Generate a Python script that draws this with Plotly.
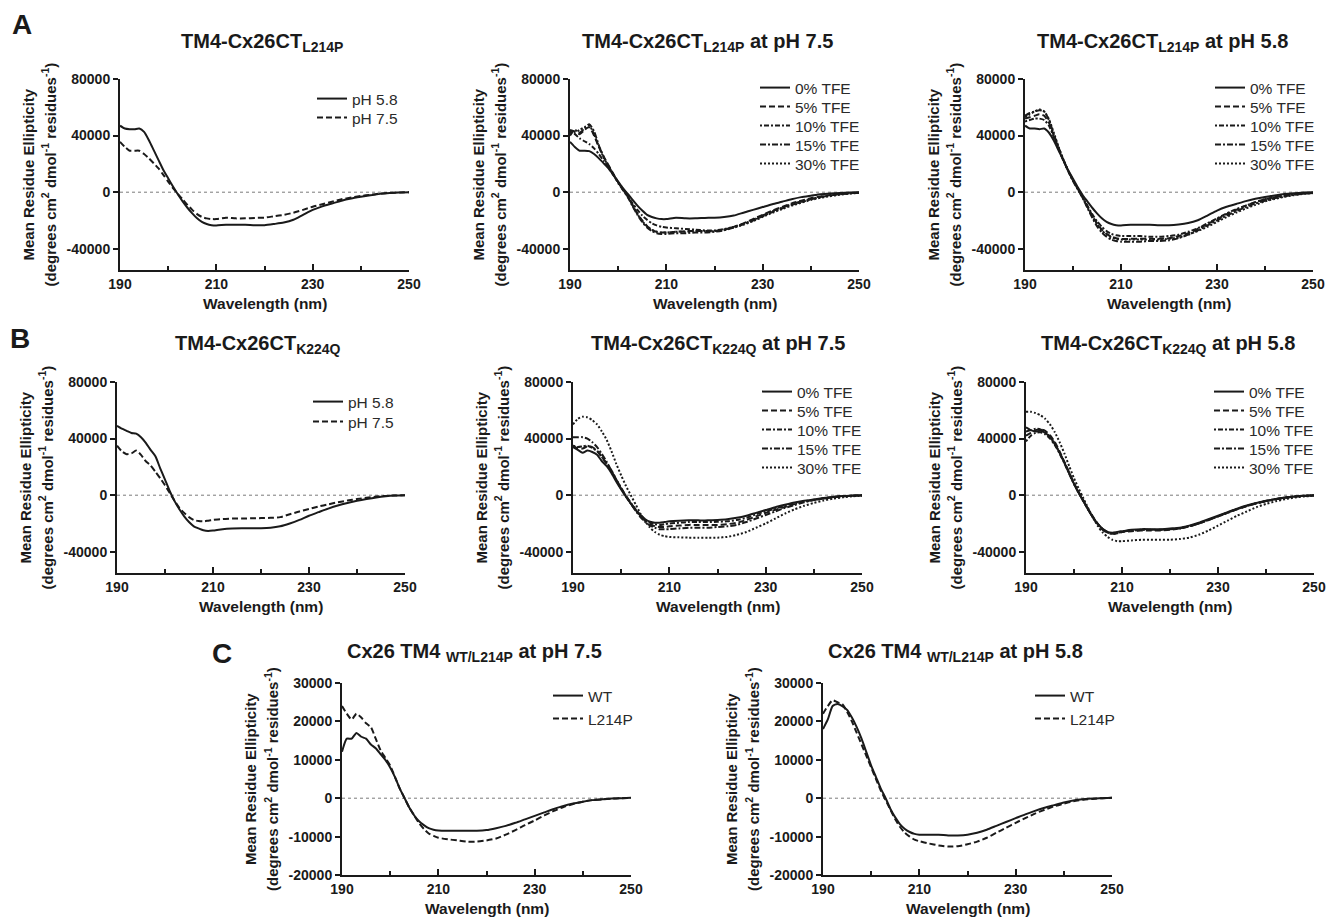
import plotly.graph_objects as go

W, H = 1341, 920
PAGE_OFFSET = 8  # the browser page places the figure 8 px from the top-left corner
INK = "#1a1a1a"
FONT = "Liberation Sans, Arial, sans-serif"

# wavelength grid (nm)
WL = [190, 191, 192, 193, 194, 195, 196, 197, 198, 199, 200,
      201, 202, 203, 204, 205, 206, 207, 208, 209, 210,
      212, 214, 216, 218, 220, 222, 224, 226, 228, 230,
      232, 234, 236, 238, 240, 242, 244, 246, 248, 250]

# ---------- Panel A: TM4-Cx26CT L214P ----------
A1_PH58 = [47000, 45000, 44500, 44500, 45000, 42600, 36700, 29700, 22700, 15700,
           9800, 4000, -1500, -6500, -11000, -15000, -18500, -21000, -22500, -23300, -23500,
           -23000, -23000, -23000, -23300, -23300, -22500, -21500, -19500, -16000, -12500,
           -10000, -8000, -6000, -4500, -3300, -2200, -1200, -600, -200, 0]
A1_PH75 = [35600, 32000, 29300, 29300, 29300, 27000, 23900, 20400, 16800, 12200,
           7500, 2800, -1200, -5000, -9000, -12500, -15500, -17500, -18500, -19000, -19000,
           -18000, -18500, -18500, -18200, -18000, -17000, -16000, -14500, -12500, -10300,
           -8500, -6800, -5000, -3800, -2700, -1800, -1000, -500, -200, 0]

A2_TFE0 = [35600, 32000, 29300, 29300, 29000, 27000, 23900, 20400, 16800, 12200,
           7500, 2800, -1200, -5500, -9500, -13000, -16000, -17500, -18500, -19000, -19000,
           -18000, -18500, -18500, -18200, -18000, -17500, -16500, -14500, -12500, -10500,
           -8500, -6800, -5000, -3500, -2500, -1500, -900, -500, -200, 0]
A2_TFE5 = [44000, 43000, 41000, 44000, 46000, 40000, 32000, 25000, 19000, 13000,
           7000, 2000, -3000, -9000, -15000, -20000, -24000, -26500, -28000, -28500, -28500,
           -28000, -27500, -27500, -27500, -27500, -26500, -24500, -22000, -19000, -16000,
           -13000, -10500, -8000, -6000, -4200, -3000, -2000, -1200, -600, -300]
A2_TFE10 = [42000, 41000, 38000, 36000, 34000, 31000, 27000, 22000, 17000, 12000,
            7000, 2000, -3000, -8000, -12500, -16500, -19500, -22000, -23500, -24500, -25000,
            -25500, -26000, -26500, -27000, -27000, -26000, -24500, -22500, -20000, -17000,
            -14000, -11500, -9000, -7000, -5000, -3500, -2300, -1400, -800, -400]
A2_TFE15 = [40000, 44000, 42000, 45000, 48000, 43000, 33000, 25000, 18500, 12500,
            6500, 1500, -3500, -10000, -16000, -21000, -25000, -27500, -29000, -29500, -29500,
            -29000, -29000, -28500, -28500, -28000, -27000, -25000, -22500, -19500, -16500,
            -13500, -11000, -8500, -6500, -4800, -3400, -2300, -1400, -800, -400]
A2_TFE30 = [43000, 42000, 44000, 46000, 47000, 41000, 32000, 24500, 18000, 12500,
            7000, 2000, -3000, -9500, -15500, -20500, -24000, -26500, -28000, -28500, -28500,
            -28000, -28000, -27500, -27500, -27500, -26500, -25000, -23000, -20500, -17500,
            -14500, -12000, -9500, -7500, -5500, -4000, -2800, -1800, -1000, -500]

A3_TFE0 = [47000, 45000, 45000, 44500, 45000, 42000, 36500, 29500, 22500, 15500,
           9500, 3500, -2000, -6500, -11000, -15000, -18500, -21000, -22500, -23300, -23500,
           -23000, -23000, -23000, -23300, -23300, -22800, -21800, -19800, -16500, -13000,
           -10300, -8300, -6300, -4700, -3400, -2300, -1300, -700, -300, 0]
A3_TFE5 = [52000, 53000, 54000, 55000, 54000, 49000, 40000, 31000, 22500, 15000,
           8500, 2500, -3500, -10000, -16500, -22000, -26500, -29500, -31500, -32500, -33000,
           -33000, -33000, -33000, -33000, -32500, -31000, -29000, -26000, -22500, -19000,
           -15500, -12500, -9500, -7000, -5000, -3500, -2300, -1400, -800, -400]
A3_TFE10 = [50000, 51000, 52000, 52000, 51000, 47000, 39000, 30500, 22500, 15000,
            8500, 2500, -3500, -9500, -15500, -20500, -24500, -27500, -29500, -30500, -31000,
            -31000, -31000, -31500, -31500, -31000, -30000, -28000, -25500, -22000, -18500,
            -15000, -12000, -9500, -7000, -5000, -3500, -2300, -1400, -800, -400]
A3_TFE15 = [54000, 56000, 57000, 58000, 57000, 51000, 41000, 31500, 23000, 15000,
            8000, 2000, -4000, -11000, -18000, -24000, -28500, -31500, -33500, -34500, -35000,
            -35000, -35000, -34500, -34500, -34000, -32500, -30000, -27000, -23500, -20000,
            -16500, -13500, -10500, -8000, -6000, -4300, -3000, -1900, -1100, -600]
A3_TFE30 = [53000, 55000, 57000, 58500, 57000, 51500, 42000, 32000, 23000, 15000,
            8000, 2000, -4000, -10500, -17000, -22500, -27000, -30000, -32000, -33000, -33500,
            -33500, -33500, -33500, -33500, -33000, -32000, -30000, -27500, -24500, -21000,
            -17500, -14500, -11500, -9000, -6500, -4800, -3300, -2100, -1200, -700]

# ---------- Panel B: TM4-Cx26CT K224Q ----------
B1_PH58 = [49000, 47000, 45500, 44000, 43500, 41000, 37000, 32000, 27500, 19000,
           11000, 2800, -4200, -10000, -15000, -19000, -22000, -23500, -24800, -25300, -25000,
           -24000, -23500, -23300, -23300, -23300, -23000, -22000, -20000, -17500, -14500,
           -12000, -9500, -7300, -5500, -4000, -2700, -1600, -800, -300, 0]
B1_PH75 = [35000, 31000, 29000, 29500, 31500, 28500, 24000, 21000, 16500, 12000,
           7000, 1500, -4000, -9000, -12500, -15500, -17500, -18300, -18500, -18000, -17500,
           -16800, -16500, -16500, -16300, -16200, -16000, -15500, -13500, -11500, -9800,
           -8000, -6500, -5000, -3800, -2700, -1800, -1000, -500, -200, 0]

B2_TFE0 = [34000, 32000, 30000, 31500, 30500, 28500, 24000, 20500, 15500, 9500,
           4000, -1000, -6000, -10500, -14000, -17000, -18800, -19500, -19500, -19000, -18500,
           -18000, -17800, -17800, -17800, -17500, -17000, -16000, -14500, -12500, -10500,
           -8500, -6800, -5200, -4000, -3000, -2000, -1200, -600, -300, 0]
B2_TFE5 = [35000, 33000, 33000, 34500, 34000, 31500, 27000, 22000, 17000, 11000,
           5000, -500, -5500, -10500, -14500, -18000, -20500, -22000, -22500, -22500, -22000,
           -21500, -21000, -21000, -21000, -21000, -20500, -19500, -17500, -15000, -12500,
           -10300, -8300, -6300, -4700, -3400, -2300, -1400, -800, -400, -200]
B2_TFE10 = [35000, 34000, 34500, 35000, 33500, 31000, 27000, 22500, 17500, 11000,
            5000, -500, -5500, -10000, -14000, -17500, -19500, -20500, -21000, -20500, -20000,
            -19500, -19000, -19000, -19000, -18800, -18500, -17500, -16000, -13500, -11500,
            -9500, -7500, -5800, -4400, -3200, -2200, -1300, -700, -400, -200]
B2_TFE15 = [41000, 41000, 41000, 40000, 37500, 34000, 29000, 23500, 17000, 10500,
            4500, -1000, -6000, -11000, -15500, -19000, -21500, -23000, -24000, -24000, -24000,
            -23500, -23000, -23000, -23000, -22500, -22000, -21000, -19000, -16500, -14000,
            -11500, -9000, -7000, -5000, -3500, -2300, -1400, -800, -400, -200]
B2_TFE30 = [50000, 54000, 55500, 55000, 53000, 50000, 45000, 39000, 31000, 22000,
            14000, 6500, 0, -6500, -13000, -18500, -23000, -26000, -28000, -29000, -29500,
            -29800, -30000, -30000, -30000, -30000, -29500, -28000, -26000, -23000, -20000,
            -16500, -13000, -10000, -7500, -5500, -3800, -2500, -1500, -800, -400]

B3_TFE0 = [48000, 46000, 45000, 45500, 44000, 41000, 36000, 30000, 23000, 15500,
           8000, 1500, -4500, -10500, -16000, -20500, -24000, -26000, -26500, -26000, -25500,
           -24500, -24000, -24000, -24000, -23500, -23000, -21500, -19500, -17000, -14500,
           -12000, -9500, -7300, -5500, -4000, -2700, -1700, -900, -400, -100]
B3_TFE5 = [42000, 44000, 46000, 46500, 45500, 42500, 37500, 31000, 23500, 16000,
           8500, 2000, -4000, -10000, -15500, -20500, -24000, -26000, -27000, -26500, -26000,
           -25500, -25000, -25000, -25000, -24500, -23500, -22000, -20000, -17500, -15000,
           -12500, -10000, -7700, -5800, -4200, -2900, -1800, -1000, -500, -200]
B3_TFE10 = [38000, 42000, 44000, 44500, 43000, 40000, 35500, 29500, 22500, 15000,
            8000, 1500, -4500, -10500, -16000, -20500, -24000, -26500, -27500, -27000, -26000,
            -25000, -24500, -24500, -24500, -24000, -23500, -22000, -20000, -17500, -15000,
            -12300, -9800, -7600, -5700, -4100, -2800, -1700, -900, -400, -200]
B3_TFE15 = [45000, 46000, 47000, 46500, 44500, 41500, 36500, 30000, 23000, 15500,
            8000, 1500, -4500, -10500, -16000, -21000, -24500, -26500, -27000, -26500, -25500,
            -25000, -24500, -24500, -24500, -24000, -23500, -22000, -20000, -17500, -15000,
            -12300, -9800, -7600, -5700, -4100, -2800, -1700, -900, -400, -200]
B3_TFE30 = [59000, 59000, 58000, 56500, 54000, 50000, 44500, 37500, 29500, 20500,
            12000, 4500, -2500, -9500, -16000, -22000, -26500, -29500, -31500, -32500, -32500,
            -32000, -31500, -31500, -31500, -31500, -31000, -30000, -28000, -25000, -21500,
            -18000, -14500, -11500, -8500, -6200, -4300, -2800, -1700, -900, -400]

# ---------- Panel C: Cx26 TM4 WT / L214P ----------
C1_WT = [12100, 15500, 15500, 17000, 16000, 15500, 14000, 13000, 11500, 10000,
         8000, 5500, 2500, 0, -2500, -4500, -6000, -7000, -7800, -8200, -8400,
         -8500, -8500, -8500, -8500, -8300, -7800, -7200, -6400, -5500, -4600,
         -3700, -2800, -2000, -1400, -900, -500, -300, -100, 0, 100]
C1_L214P = [24000, 22000, 20500, 22000, 21000, 19500, 18500, 15500, 12500, 10500,
            8500, 5500, 2500, 0, -2500, -4500, -6500, -8000, -9200, -9800, -10300,
            -10700, -11000, -11300, -11300, -11000, -10500, -9500, -8300, -7000, -5800,
            -4500, -3300, -2300, -1500, -900, -500, -300, -100, 0, 100]
C2_WT = [18000, 20500, 24000, 24500, 24000, 23000, 21000, 18500, 15500, 12000,
         8500, 5500, 2500, 0, -2800, -5000, -6800, -8000, -8800, -9300, -9500,
         -9500, -9500, -9700, -9700, -9500, -9000, -8200, -7200, -6200, -5200,
         -4200, -3300, -2500, -1800, -1100, -600, -300, -100, 0, 100]
C2_L214P = [22000, 24000, 25500, 25000, 24500, 22500, 20000, 17000, 14000, 11000,
            8000, 5000, 2000, -500, -3000, -5500, -7500, -9000, -10000, -10800, -11200,
            -11800, -12300, -12600, -12500, -12000, -11300, -10300, -9000, -7700, -6400,
            -5200, -4000, -3000, -2100, -1400, -800, -400, -200, 0, 100]

# tick labels
X_TICKS = [190, 210, 230, 250]
X_MINOR = [200, 220, 240]
Y_TICKS_AB = [-40000, 0, 40000, 80000]
Y_TICKS_C = [-20000, -10000, 0, 10000, 20000, 30000]

PH_LABELS = ["pH 5.8", "pH 7.5"]
TFE_LABELS = ["0% TFE", "5% TFE", "10% TFE", "15% TFE", "30% TFE"]
CX_LABELS = ["WT", "L214P"]

DASH_PH = ["solid", "6px,3px"]
DASH_TFE = ["solid", "6px,3px", "2px,2px,5px,2px", "6px,2px,2px,2px", "2px,2px"]

# panel layout: plot rectangle in pixels, title, title centre, legend text start & first row y & row gap
PANELS = [
    dict(rect=(120, 409, 79, 270), yr=(-55000, 80000), yt=Y_TICKS_AB,
         title="TM4-Cx26CT<sub>L214P</sub>", tpos=(262, 42),
         series=[A1_PH58, A1_PH75], labels=PH_LABELS, dashes=DASH_PH, leg=(352, 99, 19)),
    dict(rect=(570, 859, 79, 270), yr=(-55000, 80000), yt=Y_TICKS_AB,
         title="TM4-Cx26CT<sub>L214P</sub> at pH 7.5", tpos=(707, 42),
         series=[A2_TFE0, A2_TFE5, A2_TFE10, A2_TFE15, A2_TFE30], labels=TFE_LABELS,
         dashes=DASH_TFE, leg=(795, 88, 19)),
    dict(rect=(1025, 1313, 79, 270), yr=(-55000, 80000), yt=Y_TICKS_AB,
         title="TM4-Cx26CT<sub>L214P</sub> at pH 5.8", tpos=(1162, 42),
         series=[A3_TFE0, A3_TFE5, A3_TFE10, A3_TFE15, A3_TFE30], labels=TFE_LABELS,
         dashes=DASH_TFE, leg=(1250, 88, 19)),
    dict(rect=(117, 405, 382, 573), yr=(-55000, 80000), yt=Y_TICKS_AB,
         title="TM4-Cx26CT<sub>K224Q</sub>", tpos=(258, 344),
         series=[B1_PH58, B1_PH75], labels=PH_LABELS, dashes=DASH_PH, leg=(348, 402, 20)),
    dict(rect=(573, 862, 382, 573), yr=(-55000, 80000), yt=Y_TICKS_AB,
         title="TM4-Cx26CT<sub>K224Q</sub> at pH 7.5", tpos=(718, 344),
         series=[B2_TFE0, B2_TFE5, B2_TFE10, B2_TFE15, B2_TFE30], labels=TFE_LABELS,
         dashes=DASH_TFE, leg=(797, 392, 19)),
    dict(rect=(1026, 1314, 382, 573), yr=(-55000, 80000), yt=Y_TICKS_AB,
         title="TM4-Cx26CT<sub>K224Q</sub> at pH 5.8", tpos=(1168, 344),
         series=[B3_TFE0, B3_TFE5, B3_TFE10, B3_TFE15, B3_TFE30], labels=TFE_LABELS,
         dashes=DASH_TFE, leg=(1249, 392, 19)),
    dict(rect=(342, 631, 683, 875), yr=(-20000, 30000), yt=Y_TICKS_C,
         title="Cx26 TM4 <sub>WT/L214P</sub> at pH 7.5", tpos=(474, 652),
         series=[C1_WT, C1_L214P], labels=CX_LABELS, dashes=DASH_PH, leg=(588, 696, 23)),
    dict(rect=(823, 1112, 683, 875), yr=(-20000, 30000), yt=Y_TICKS_C,
         title="Cx26 TM4 <sub>WT/L214P</sub> at pH 5.8", tpos=(955, 652),
         series=[C2_WT, C2_L214P], labels=CX_LABELS, dashes=DASH_PH, leg=(1070, 696, 23)),
]

LETTERS = [("A", 22, 24), ("B", 20, 338), ("C", 222, 653)]


def px(x):
    return (x - PAGE_OFFSET) / W


def py(y):
    return 1 - (y - PAGE_OFFSET) / H


fig = go.Figure()
layout = dict(width=W, height=H, autosize=False,
              margin=dict(l=0, r=0, t=0, b=0, pad=0, autoexpand=False),
              paper_bgcolor="white", plot_bgcolor="white", showlegend=True,
              font=dict(family=FONT, color=INK))
annotations = []
shapes = []
tickfont = dict(family=FONT, size=14, color=INK, weight="bold")
leg_n = 0

for i, p in enumerate(PANELS):
    n = i + 1
    xa = "x" if n == 1 else f"x{n}"
    ya = "y" if n == 1 else f"y{n}"
    xk = "xaxis" if n == 1 else f"xaxis{n}"
    yk = "yaxis" if n == 1 else f"yaxis{n}"
    x0, x1, y0, y1 = p["rect"]
    layout[xk] = dict(domain=[px(x0), px(x1)], range=[190, 250], anchor=ya, automargin=False,
                      tickmode="array", tickvals=X_TICKS, ticktext=[str(v) for v in X_TICKS],
                      ticks="inside", ticklen=6, tickwidth=2, tickcolor=INK,
                      minor=dict(tickmode="array", tickvals=X_MINOR, ticks="inside",
                                 ticklen=4, tickwidth=2, tickcolor=INK),
                      showline=True, linewidth=2, linecolor=INK, showgrid=False,
                      zeroline=False, tickfont=tickfont, fixedrange=True)
    layout[yk] = dict(domain=[py(y1), py(y0)], range=list(p["yr"]), anchor=xa, automargin=False,
                      tickmode="array", tickvals=p["yt"], ticktext=[str(v) for v in p["yt"]],
                      ticks="outside", ticklen=5, tickwidth=2, tickcolor=INK,
                      showline=True, linewidth=2, linecolor=INK, showgrid=False,
                      zeroline=False, tickfont=tickfont, fixedrange=True)
    # dotted zero reference line
    shapes.append(dict(type="line", xref=f"{xa} domain", x0=0, x1=1, yref=ya, y0=0, y1=0,
                       line=dict(color="#7a7a7a", width=1, dash="dot"), layer="below"))
    # traces
    tx, ly0, lgap = p["leg"]
    for j, (vals, lab, dash) in enumerate(zip(p["series"], p["labels"], p["dashes"])):
        leg_n += 1
        lid = "legend" if leg_n == 1 else f"legend{leg_n}"
        fig.add_trace(go.Scatter(
            x=WL, y=vals, mode="lines", name=lab, xaxis=xa, yaxis=ya, legend=lid,
            line=dict(color=INK, width=2, dash=dash, shape="spline", smoothing=0.6),
            hoverinfo="skip"))
        layout[lid] = dict(x=px(tx - 40), y=py(ly0 + j * lgap), xanchor="left", yanchor="middle",
                           bgcolor="rgba(0,0,0,0)", borderwidth=0, itemwidth=30,
                           font=dict(family=FONT, size=15.5, color="#2a2a2a"))
    # title
    annotations.append(dict(text=p["title"], x=px(p["tpos"][0]), y=py(p["tpos"][1]),
                            xref="paper", yref="paper", xanchor="center", yanchor="middle",
                            showarrow=False, font=dict(family=FONT, size=20, color=INK, weight="bold")))
    # x title
    annotations.append(dict(text="Wavelength (nm)", x=px((x0 + x1) / 2), y=py(y1 + 33),
                            xref="paper", yref="paper", xanchor="center", yanchor="middle",
                            showarrow=False, font=dict(family=FONT, size=15.5, color=INK, weight="bold")))
    # y title (two lines)
    yc = py((y0 + y1) / 2)
    annotations.append(dict(text="Mean Residue Ellipticity", x=px(x0 - 92), y=yc,
                            xref="paper", yref="paper", xanchor="center", yanchor="middle",
                            textangle=-90, showarrow=False,
                            font=dict(family=FONT, size=15, color=INK, weight="bold")))
    annotations.append(dict(text="(degrees cm<sup>2</sup> dmol<sup>-1</sup> residues<sup>-1</sup>)",
                            x=px(x0 - 71), y=yc, xref="paper", yref="paper",
                            xanchor="center", yanchor="middle", textangle=-90, showarrow=False,
                            font=dict(family=FONT, size=15, color=INK, weight="bold")))

for letter, lx, ly in LETTERS:
    annotations.append(dict(text=letter, x=px(lx), y=py(ly), xref="paper", yref="paper",
                            xanchor="center", yanchor="middle", showarrow=False,
                            font=dict(family=FONT, size=28, color=INK, weight="bold")))

layout["annotations"] = annotations
layout["shapes"] = shapes
fig.update_layout(**layout)
fig.write_html("out.html")
